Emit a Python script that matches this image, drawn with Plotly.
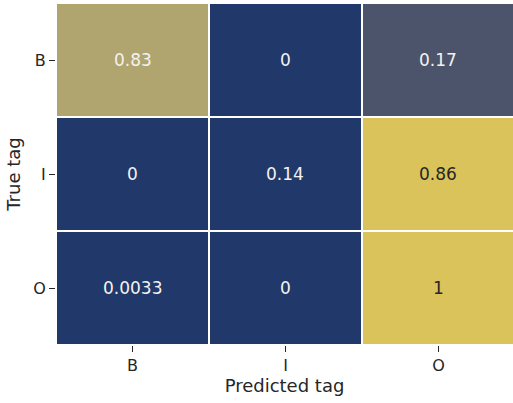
import plotly.graph_objects as go

labels = ["B", "I", "O"]
values = [
    [0.83, 0.0, 0.17],
    [0.0, 0.14, 0.86],
    [0.0033, 0.0, 1.0],
]
text_vals = [
    ["0.83", "0", "0.17"],
    ["0", "0.14", "0.86"],
    ["0.0033", "0", "1"],
]

colorscale = [
    [0.0, "#21386a"],
    [0.15, "#21386a"],
    [0.17, "#4c546c"],
    [0.83, "#b0a56f"],
    [0.85, "#dac35a"],
    [1.0, "#dac35a"],
]

fig = go.Figure(go.Heatmap(
    z=values, x=labels, y=labels,
    colorscale=colorscale, zmin=0, zmax=1,
    showscale=False, xgap=2, ygap=2,
    hoverinfo="skip",
))

for i, row in enumerate(values):
    for j, v in enumerate(row):
        fig.add_annotation(
            x=labels[j], y=labels[i], text=text_vals[i][j], showarrow=False,
            font=dict(family="DejaVu Sans", size=17,
                      color="#262626" if v > 0.84 else "#f4f2ee"),
        )

fig.update_layout(
    width=513, height=403,
    margin=dict(l=56, r=0, t=3, b=58, autoexpand=False),
    plot_bgcolor="white", paper_bgcolor="white",
    font=dict(family="DejaVu Sans", size=16, color="#262626"),
)
fig.update_xaxes(
    title=dict(text="Predicted tag", font=dict(size=18), standoff=4),
    ticks="outside", ticklen=6, tickcolor="#262626", showgrid=False,
    zeroline=False, showline=False, automargin=False,
    range=[-0.5, 2.487],
)
fig.update_yaxes(
    title=dict(text="True tag", font=dict(size=18), standoff=7),
    ticks="outside", ticklen=6, tickcolor="#262626", showgrid=False,
    autorange="reversed", zeroline=False, showline=False, automargin=False,
)

fig.write_html("out.html", config={"displayModeBar": False},
               post_script="document.body.style.margin='0px';")
